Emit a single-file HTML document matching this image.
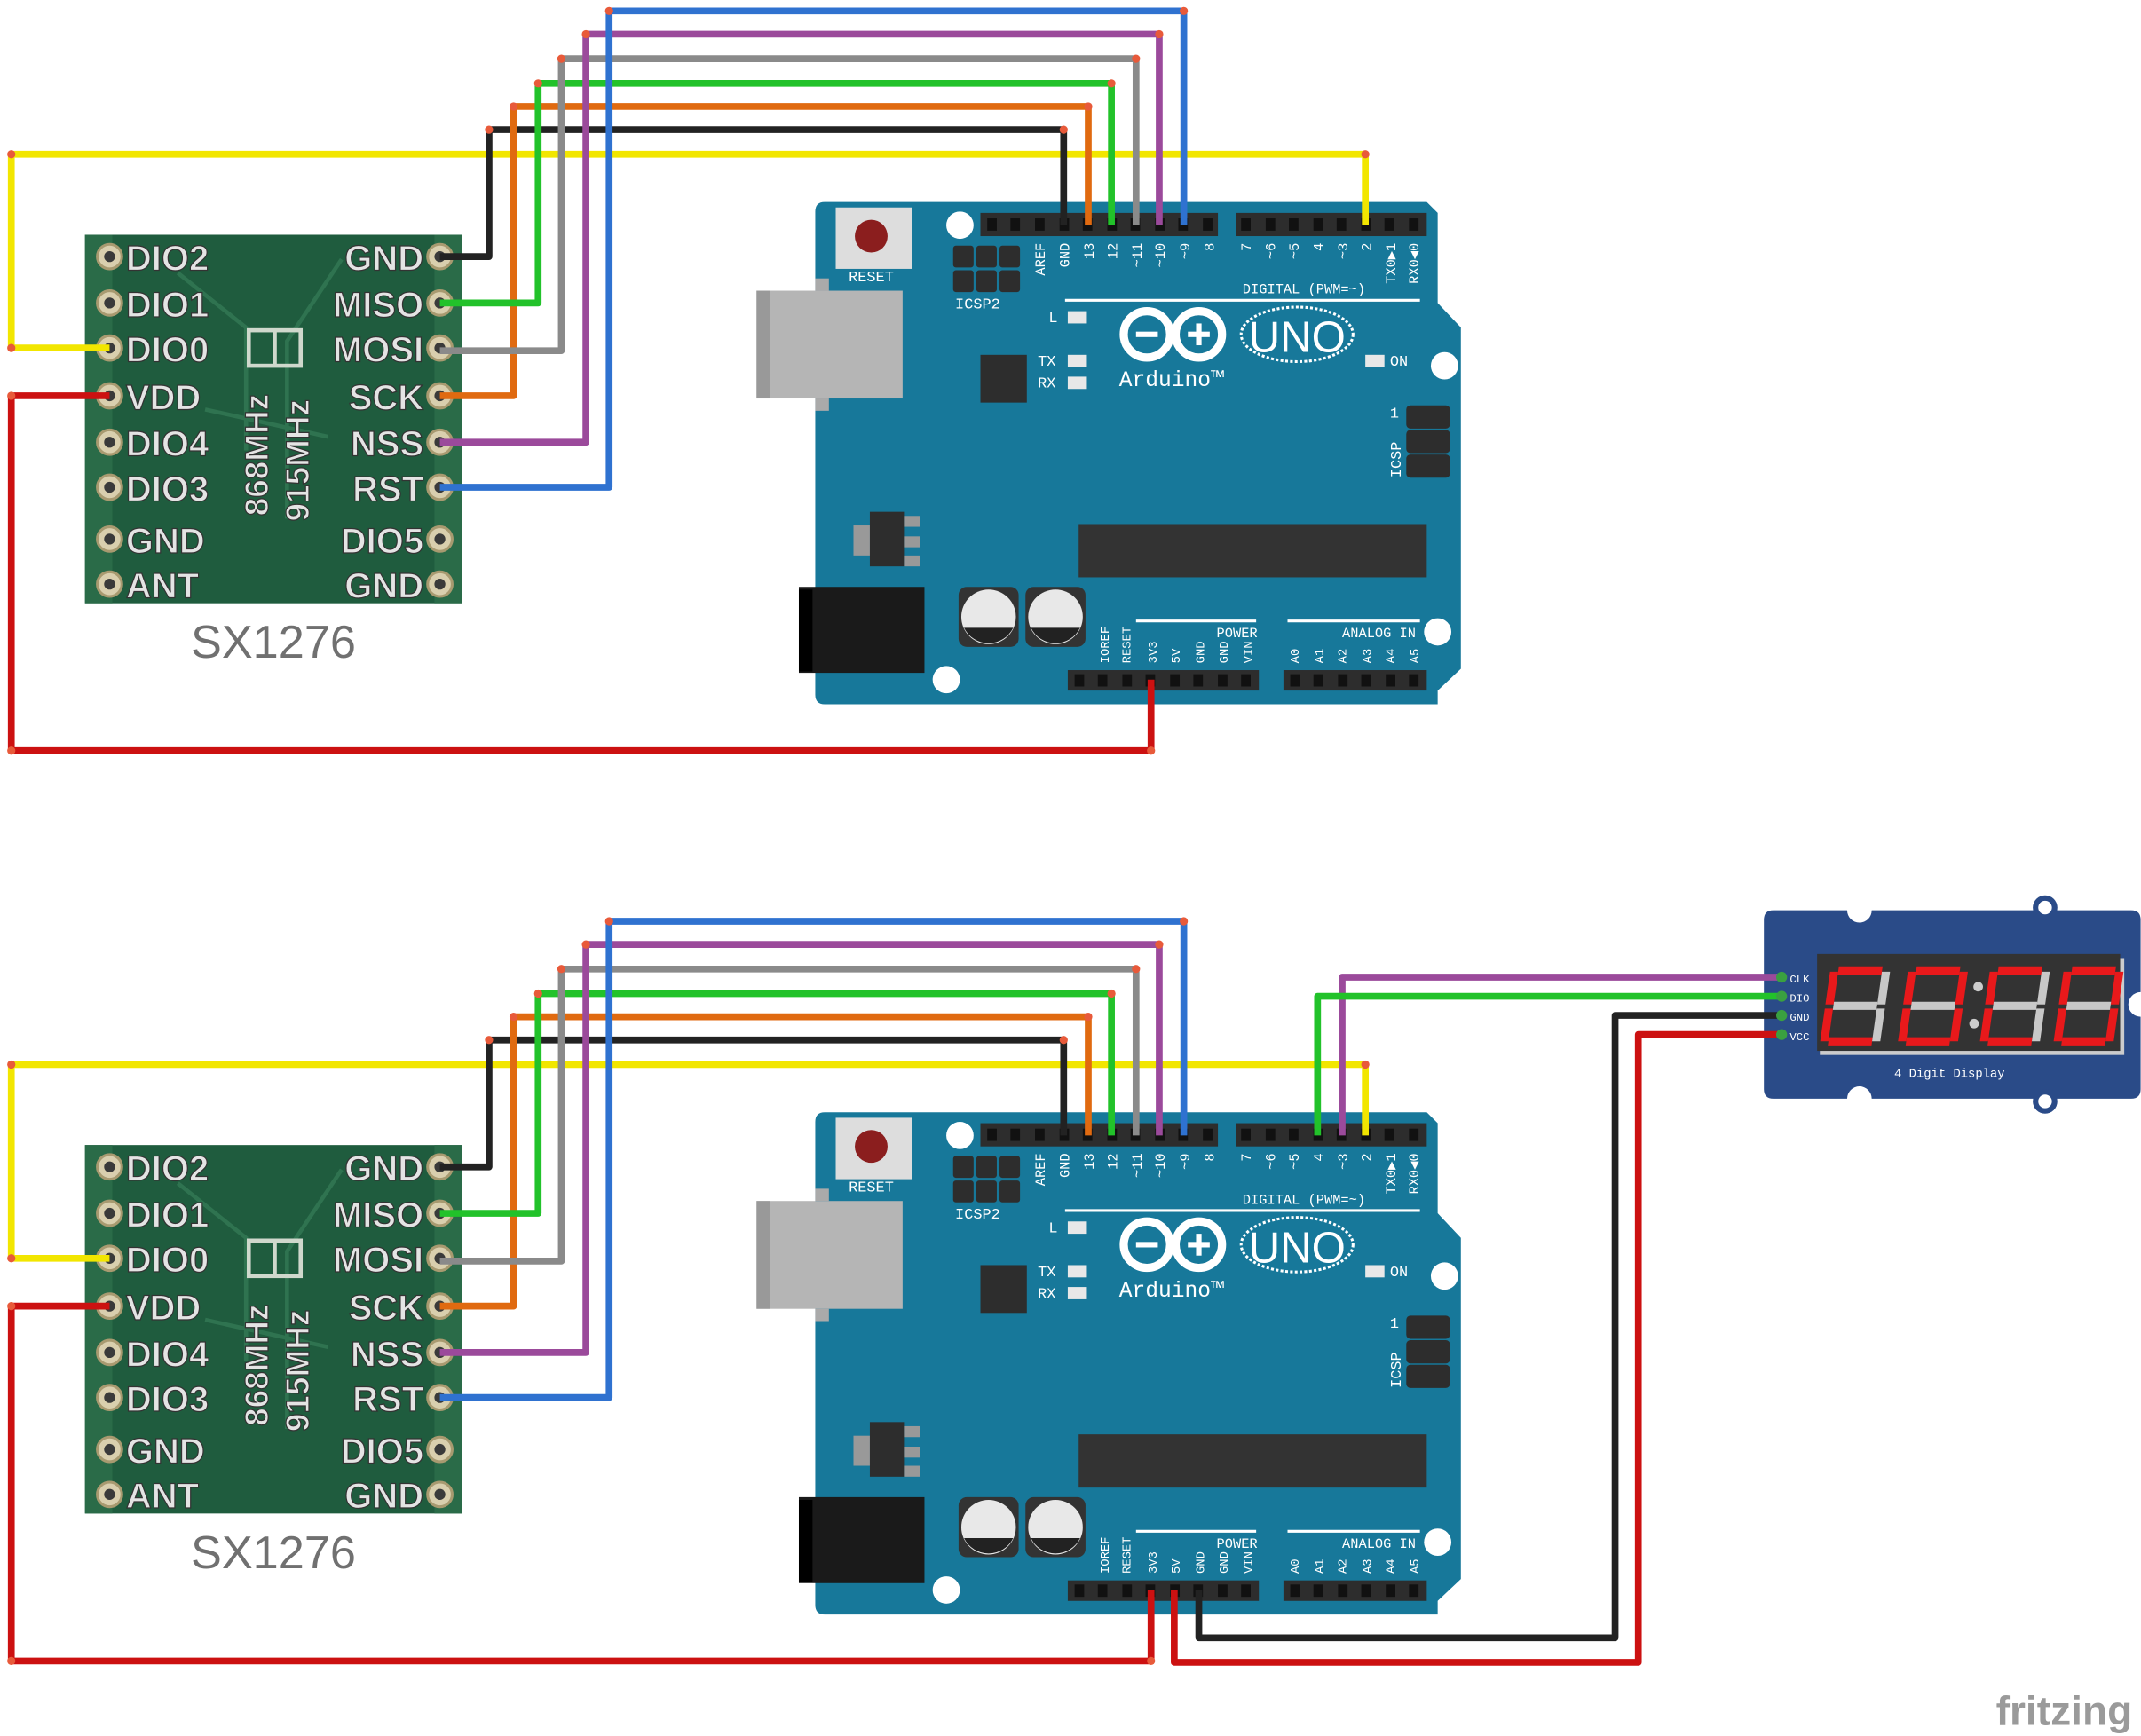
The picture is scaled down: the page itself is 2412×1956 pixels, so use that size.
<!DOCTYPE html>
<html><head><meta charset="utf-8"><style>
html,body{margin:0;padding:0;background:#fff;}
svg{display:block;}
.lt{font-family:"Liberation Sans",sans-serif;}
.mn{font-family:"Liberation Mono","DejaVu Sans Mono",monospace;}
</style></head><body>
<svg width="2412" height="1956" viewBox="0 0 1568 1272" xmlns="http://www.w3.org/2000/svg">
<rect width="1568" height="1272" fill="#fff"/>

<!-- ================= TOP SECTION ================= -->
<g>
<rect x="62" y="172" width="276" height="270" fill="#1f5c3e"/>
<rect x="62" y="172" width="20" height="270" fill="#2a6b48"/>
<rect x="318" y="172" width="20" height="270" fill="#2a6b48"/>
<path d="M130 200 L180 240 L180 330 M250 190 L210 250 L210 380 M150 300 L240 320" stroke="#2f7350" stroke-width="3" fill="none"/>
<rect x="182" y="242" width="38" height="26" fill="none" stroke="#cfd8cc" stroke-width="3"/>
<line x1="201" y1="242" x2="201" y2="268" stroke="#cfd8cc" stroke-width="3"/>
<g fill="#d9cfae" stroke="#a89a70" stroke-width="2">
<circle cx="80" cy="188" r="9"/><circle cx="80" cy="222" r="9"/><circle cx="80" cy="255" r="9"/><circle cx="80" cy="290" r="9"/><circle cx="80" cy="324" r="9"/><circle cx="80" cy="357" r="9"/><circle cx="80" cy="395" r="9"/><circle cx="80" cy="428" r="9"/>
<circle cx="322" cy="188" r="9"/><circle cx="322" cy="222" r="9"/><circle cx="322" cy="255" r="9"/><circle cx="322" cy="290" r="9"/><circle cx="322" cy="324" r="9"/><circle cx="322" cy="357" r="9"/><circle cx="322" cy="395" r="9"/><circle cx="322" cy="428" r="9"/>
</g>
<g fill="#3a3a3a"><circle cx="80" cy="188" r="4"/><circle cx="80" cy="222" r="4"/><circle cx="80" cy="255" r="4"/><circle cx="80" cy="290" r="4"/><circle cx="80" cy="324" r="4"/><circle cx="80" cy="357" r="4"/><circle cx="80" cy="395" r="4"/><circle cx="80" cy="428" r="4"/><circle cx="322" cy="188" r="4"/><circle cx="322" cy="222" r="4"/><circle cx="322" cy="255" r="4"/><circle cx="322" cy="290" r="4"/><circle cx="322" cy="324" r="4"/><circle cx="322" cy="357" r="4"/><circle cx="322" cy="395" r="4"/><circle cx="322" cy="428" r="4"/></g>
<g class="lt" font-size="26" fill="#e4e4e4" stroke="#333" stroke-width="0.8" font-weight="bold">
<text x="92" y="198">DIO2</text><text x="92" y="232">DIO1</text><text x="92" y="265">DIO0</text><text x="92" y="300">VDD</text><text x="92" y="334">DIO4</text><text x="92" y="367">DIO3</text><text x="92" y="405">GND</text><text x="92" y="438">ANT</text>
<g text-anchor="end"><text x="310" y="198">GND</text><text x="310" y="232">MISO</text><text x="310" y="265">MOSI</text><text x="310" y="300">SCK</text><text x="310" y="334">NSS</text><text x="310" y="367">RST</text><text x="310" y="405">DIO5</text><text x="310" y="438">GND</text></g>
<text transform="translate(196,378) rotate(-90)" font-size="24">868MHz</text>
<text transform="translate(226,382) rotate(-90)" font-size="24">915MHz</text>
</g>
<text class="lt" x="200" y="482" font-size="34" fill="#707070" text-anchor="middle">SX1276</text>

<path d="M604 148 H1045 L1053 156 V222 L1070 240 V490 L1053 506 V516 H604 Q597 516 597 509 V155 Q597 148 604 148 Z" fill="#17789a"/>
<rect x="554" y="213" width="107" height="79" fill="#b5b5b5"/><rect x="554" y="213" width="10" height="79" fill="#999"/><rect x="597" y="204" width="10" height="9" fill="#aaa"/><rect x="597" y="292" width="10" height="9" fill="#aaa"/>
<rect x="612" y="152" width="56" height="45" fill="#ddd"/><circle cx="638" cy="173" r="12" fill="#8b1e1e"/>
<text class="mn" x="638" y="206" font-size="11" fill="#fff" text-anchor="middle">RESET</text>
<g fill="#2d2d2d"><rect x="698" y="180" width="15" height="16" rx="2"/><rect x="715" y="180" width="15" height="16" rx="2"/><rect x="732" y="180" width="15" height="16" rx="2"/><rect x="698" y="198" width="15" height="16" rx="2"/><rect x="715" y="198" width="15" height="16" rx="2"/><rect x="732" y="198" width="15" height="16" rx="2"/></g>
<text class="mn" x="716" y="226" font-size="11" fill="#fff" text-anchor="middle">ICSP2</text>
<rect x="718" y="156" width="174" height="17" fill="#2d2d2d"/><rect x="905" y="156" width="140" height="17" fill="#2d2d2d"/>
<g fill="#111"><rect x="723" y="160" width="7" height="9"/><rect x="740" y="160" width="7" height="9"/><rect x="758" y="160" width="7" height="9"/><rect x="776" y="160" width="7" height="9"/><rect x="793" y="160" width="7" height="9"/><rect x="811" y="160" width="7" height="9"/><rect x="828" y="160" width="7" height="9"/><rect x="846" y="160" width="7" height="9"/><rect x="863" y="160" width="7" height="9"/><rect x="881" y="160" width="7" height="9"/><rect x="909" y="160" width="7" height="9"/><rect x="927" y="160" width="7" height="9"/><rect x="944" y="160" width="7" height="9"/><rect x="962" y="160" width="7" height="9"/><rect x="979" y="160" width="7" height="9"/><rect x="997" y="160" width="7" height="9"/><rect x="1014" y="160" width="7" height="9"/><rect x="1032" y="160" width="7" height="9"/></g>
<g class="mn" font-size="10" fill="#fff" text-anchor="end">
<text transform="translate(765,178) rotate(-90)">AREF</text><text transform="translate(783,178) rotate(-90)">GND</text><text transform="translate(801,178) rotate(-90)">13</text><text transform="translate(818,178) rotate(-90)">12</text><text transform="translate(836,178) rotate(-90)">~11</text><text transform="translate(853,178) rotate(-90)">~10</text><text transform="translate(871,178) rotate(-90)">~9</text><text transform="translate(889,178) rotate(-90)">8</text>
<text transform="translate(916,178) rotate(-90)">7</text><text transform="translate(934,178) rotate(-90)">~6</text><text transform="translate(951,178) rotate(-90)">~5</text><text transform="translate(969,178) rotate(-90)">4</text><text transform="translate(987,178) rotate(-90)">~3</text><text transform="translate(1004,178) rotate(-90)">2</text><text transform="translate(1022,178) rotate(-90)">TX0▶1</text><text transform="translate(1039,178) rotate(-90)">RX0◀0</text>
</g>
<text class="mn" x="955" y="215" font-size="10" fill="#fff" text-anchor="middle">DIGITAL (PWM=~)</text>
<line x1="780" y1="220" x2="1040" y2="220" stroke="#fff" stroke-width="2"/>
<g class="mn" font-size="11" fill="#fff"><text x="768" y="236">L</text><text x="760" y="268">TX</text><text x="760" y="284">RX</text><text x="1018" y="268">ON</text></g>
<g fill="#e8e8e8"><rect x="782" y="228" width="14" height="9"/><rect x="782" y="260" width="14" height="9"/><rect x="782" y="276" width="14" height="9"/><rect x="1000" y="260" width="14" height="9"/></g>
<rect x="718" y="260" width="34" height="35" fill="#2d2d2d"/>
<circle cx="840" cy="245" r="17" fill="none" stroke="#fff" stroke-width="6"/><circle cx="878" cy="245" r="17" fill="none" stroke="#fff" stroke-width="6"/>
<rect x="832" y="243" width="16" height="4" fill="#fff"/><rect x="870" y="243" width="16" height="4" fill="#fff"/><rect x="876" y="237" width="4" height="16" fill="#fff"/>
<ellipse cx="950" cy="245" rx="41" ry="20" fill="none" stroke="#fff" stroke-width="2" stroke-dasharray="2 1.5"/>
<text class="lt" x="950" y="258" font-size="32" fill="#fff" text-anchor="middle">UNO</text>
<text class="mn" x="858" y="283" font-size="16" fill="#fff" text-anchor="middle">Arduino™</text>
<g fill="#2d2d2d"><rect x="1030" y="297" width="32" height="17" rx="3"/><rect x="1030" y="315" width="32" height="17" rx="3"/><rect x="1030" y="333" width="32" height="17" rx="3"/></g>
<text class="mn" font-size="11" fill="#fff" x="1018" y="306">1</text>
<text class="mn" font-size="11" fill="#fff" transform="translate(1026,350) rotate(-90)">ICSP</text>
<rect x="625" y="385" width="12" height="22" fill="#999"/><rect x="637" y="375" width="25" height="40" fill="#2d2d2d"/><rect x="662" y="378" width="12" height="8" fill="#999"/><rect x="662" y="393" width="12" height="8" fill="#999"/><rect x="662" y="407" width="12" height="8" fill="#999"/>
<rect x="790" y="384" width="255" height="39" fill="#333"/>
<rect x="585" y="430" width="92" height="63" fill="#1a1a1a"/><rect x="585" y="432" width="10" height="60" fill="#000"/>
<rect x="702" y="430" width="44" height="44" rx="6" fill="#333"/><circle cx="724" cy="452" r="20" fill="#e8e8e8"/><path d="M706 460 A20 20 0 0 0 742 460 Z" fill="#222"/>
<rect x="751" y="430" width="44" height="44" rx="6" fill="#333"/><circle cx="773" cy="452" r="20" fill="#e8e8e8"/><path d="M755 460 A20 20 0 0 0 791 460 Z" fill="#222"/>
<g fill="#fff"><circle cx="703" cy="165" r="10"/><circle cx="693" cy="498" r="10"/><circle cx="1058" cy="268" r="10"/><circle cx="1053" cy="463" r="10"/></g>
<line x1="832" y1="455" x2="920" y2="455" stroke="#fff" stroke-width="2"/><line x1="943" y1="455" x2="1040" y2="455" stroke="#fff" stroke-width="2"/>
<text class="mn" x="906" y="467" font-size="10" fill="#fff" text-anchor="middle">POWER</text><text class="mn" x="1010" y="467" font-size="10" fill="#fff" text-anchor="middle">ANALOG IN</text>
<g class="mn" font-size="9" fill="#fff" text-anchor="start">
<text transform="translate(812,486) rotate(-90)">IOREF</text><text transform="translate(828,486) rotate(-90)">RESET</text><text transform="translate(847,486) rotate(-90)">3V3</text><text transform="translate(864,486) rotate(-90)">5V</text><text transform="translate(882,486) rotate(-90)">GND</text><text transform="translate(899,486) rotate(-90)">GND</text><text transform="translate(917,486) rotate(-90)">VIN</text>
<text transform="translate(951,486) rotate(-90)">A0</text><text transform="translate(969,486) rotate(-90)">A1</text><text transform="translate(986,486) rotate(-90)">A2</text><text transform="translate(1004,486) rotate(-90)">A3</text><text transform="translate(1021,486) rotate(-90)">A4</text><text transform="translate(1039,486) rotate(-90)">A5</text>
</g>
<rect x="782" y="491" width="140" height="15" fill="#2d2d2d"/><rect x="940" y="491" width="105" height="15" fill="#2d2d2d"/>
<g fill="#111"><rect x="787" y="494" width="7" height="9"/><rect x="804" y="494" width="7" height="9"/><rect x="822" y="494" width="7" height="9"/><rect x="839" y="494" width="7" height="9"/><rect x="857" y="494" width="7" height="9"/><rect x="874" y="494" width="7" height="9"/><rect x="892" y="494" width="7" height="9"/><rect x="909" y="494" width="7" height="9"/><rect x="945" y="494" width="7" height="9"/><rect x="962" y="494" width="7" height="9"/><rect x="980" y="494" width="7" height="9"/><rect x="997" y="494" width="7" height="9"/><rect x="1015" y="494" width="7" height="9"/><rect x="1032" y="494" width="7" height="9"/></g>

<g fill="none" stroke-width="5" stroke-linejoin="round">
<path d="M80 255 H8 V113 H1000 V165" stroke="#f2e600"/>
<path d="M322 188 H358 V95 H779 V165" stroke="#222"/>
<path d="M322 290 H376 V78 H797 V165" stroke="#e06a10"/>
<path d="M322 222 H394 V61 H814 V165" stroke="#22c22a"/>
<path d="M322 257 H411 V43 H832 V165" stroke="#8a8a8a"/>
<path d="M322 324 H429 V25 H849 V165" stroke="#9b4a9b"/>
<path d="M322 357 H446 V8 H867 V165" stroke="#2f72d0"/>
<path d="M80 290 H8 V550 H843 V498" stroke="#cc1111"/>
</g>
<g fill="#e85a3a"><circle cx="8" cy="113" r="3"/><circle cx="8" cy="255" r="3"/><circle cx="1000" cy="113" r="3"/><circle cx="358" cy="95" r="3"/><circle cx="779" cy="95" r="3"/><circle cx="376" cy="78" r="3"/><circle cx="797" cy="78" r="3"/><circle cx="394" cy="61" r="3"/><circle cx="814" cy="61" r="3"/><circle cx="411" cy="43" r="3"/><circle cx="832" cy="43" r="3"/><circle cx="429" cy="25" r="3"/><circle cx="849" cy="25" r="3"/><circle cx="446" cy="8" r="3"/><circle cx="867" cy="8" r="3"/><circle cx="8" cy="290" r="3"/><circle cx="8" cy="550" r="3"/><circle cx="843" cy="550" r="3"/></g>
</g>

<!-- ================= BOTTOM SECTION ================= -->
<g transform="translate(0,667)">
<rect x="62" y="172" width="276" height="270" fill="#1f5c3e"/>
<rect x="62" y="172" width="20" height="270" fill="#2a6b48"/>
<rect x="318" y="172" width="20" height="270" fill="#2a6b48"/>
<path d="M130 200 L180 240 L180 330 M250 190 L210 250 L210 380 M150 300 L240 320" stroke="#2f7350" stroke-width="3" fill="none"/>
<rect x="182" y="242" width="38" height="26" fill="none" stroke="#cfd8cc" stroke-width="3"/>
<line x1="201" y1="242" x2="201" y2="268" stroke="#cfd8cc" stroke-width="3"/>
<g fill="#d9cfae" stroke="#a89a70" stroke-width="2">
<circle cx="80" cy="188" r="9"/><circle cx="80" cy="222" r="9"/><circle cx="80" cy="255" r="9"/><circle cx="80" cy="290" r="9"/><circle cx="80" cy="324" r="9"/><circle cx="80" cy="357" r="9"/><circle cx="80" cy="395" r="9"/><circle cx="80" cy="428" r="9"/>
<circle cx="322" cy="188" r="9"/><circle cx="322" cy="222" r="9"/><circle cx="322" cy="255" r="9"/><circle cx="322" cy="290" r="9"/><circle cx="322" cy="324" r="9"/><circle cx="322" cy="357" r="9"/><circle cx="322" cy="395" r="9"/><circle cx="322" cy="428" r="9"/>
</g>
<g fill="#3a3a3a"><circle cx="80" cy="188" r="4"/><circle cx="80" cy="222" r="4"/><circle cx="80" cy="255" r="4"/><circle cx="80" cy="290" r="4"/><circle cx="80" cy="324" r="4"/><circle cx="80" cy="357" r="4"/><circle cx="80" cy="395" r="4"/><circle cx="80" cy="428" r="4"/><circle cx="322" cy="188" r="4"/><circle cx="322" cy="222" r="4"/><circle cx="322" cy="255" r="4"/><circle cx="322" cy="290" r="4"/><circle cx="322" cy="324" r="4"/><circle cx="322" cy="357" r="4"/><circle cx="322" cy="395" r="4"/><circle cx="322" cy="428" r="4"/></g>
<g class="lt" font-size="26" fill="#e4e4e4" stroke="#333" stroke-width="0.8" font-weight="bold">
<text x="92" y="198">DIO2</text><text x="92" y="232">DIO1</text><text x="92" y="265">DIO0</text><text x="92" y="300">VDD</text><text x="92" y="334">DIO4</text><text x="92" y="367">DIO3</text><text x="92" y="405">GND</text><text x="92" y="438">ANT</text>
<g text-anchor="end"><text x="310" y="198">GND</text><text x="310" y="232">MISO</text><text x="310" y="265">MOSI</text><text x="310" y="300">SCK</text><text x="310" y="334">NSS</text><text x="310" y="367">RST</text><text x="310" y="405">DIO5</text><text x="310" y="438">GND</text></g>
<text transform="translate(196,378) rotate(-90)" font-size="24">868MHz</text>
<text transform="translate(226,382) rotate(-90)" font-size="24">915MHz</text>
</g>
<text class="lt" x="200" y="482" font-size="34" fill="#707070" text-anchor="middle">SX1276</text>

<path d="M604 148 H1045 L1053 156 V222 L1070 240 V490 L1053 506 V516 H604 Q597 516 597 509 V155 Q597 148 604 148 Z" fill="#17789a"/>
<rect x="554" y="213" width="107" height="79" fill="#b5b5b5"/><rect x="554" y="213" width="10" height="79" fill="#999"/><rect x="597" y="204" width="10" height="9" fill="#aaa"/><rect x="597" y="292" width="10" height="9" fill="#aaa"/>
<rect x="612" y="152" width="56" height="45" fill="#ddd"/><circle cx="638" cy="173" r="12" fill="#8b1e1e"/>
<text class="mn" x="638" y="206" font-size="11" fill="#fff" text-anchor="middle">RESET</text>
<g fill="#2d2d2d"><rect x="698" y="180" width="15" height="16" rx="2"/><rect x="715" y="180" width="15" height="16" rx="2"/><rect x="732" y="180" width="15" height="16" rx="2"/><rect x="698" y="198" width="15" height="16" rx="2"/><rect x="715" y="198" width="15" height="16" rx="2"/><rect x="732" y="198" width="15" height="16" rx="2"/></g>
<text class="mn" x="716" y="226" font-size="11" fill="#fff" text-anchor="middle">ICSP2</text>
<rect x="718" y="156" width="174" height="17" fill="#2d2d2d"/><rect x="905" y="156" width="140" height="17" fill="#2d2d2d"/>
<g fill="#111"><rect x="723" y="160" width="7" height="9"/><rect x="740" y="160" width="7" height="9"/><rect x="758" y="160" width="7" height="9"/><rect x="776" y="160" width="7" height="9"/><rect x="793" y="160" width="7" height="9"/><rect x="811" y="160" width="7" height="9"/><rect x="828" y="160" width="7" height="9"/><rect x="846" y="160" width="7" height="9"/><rect x="863" y="160" width="7" height="9"/><rect x="881" y="160" width="7" height="9"/><rect x="909" y="160" width="7" height="9"/><rect x="927" y="160" width="7" height="9"/><rect x="944" y="160" width="7" height="9"/><rect x="962" y="160" width="7" height="9"/><rect x="979" y="160" width="7" height="9"/><rect x="997" y="160" width="7" height="9"/><rect x="1014" y="160" width="7" height="9"/><rect x="1032" y="160" width="7" height="9"/></g>
<g class="mn" font-size="10" fill="#fff" text-anchor="end">
<text transform="translate(765,178) rotate(-90)">AREF</text><text transform="translate(783,178) rotate(-90)">GND</text><text transform="translate(801,178) rotate(-90)">13</text><text transform="translate(818,178) rotate(-90)">12</text><text transform="translate(836,178) rotate(-90)">~11</text><text transform="translate(853,178) rotate(-90)">~10</text><text transform="translate(871,178) rotate(-90)">~9</text><text transform="translate(889,178) rotate(-90)">8</text>
<text transform="translate(916,178) rotate(-90)">7</text><text transform="translate(934,178) rotate(-90)">~6</text><text transform="translate(951,178) rotate(-90)">~5</text><text transform="translate(969,178) rotate(-90)">4</text><text transform="translate(987,178) rotate(-90)">~3</text><text transform="translate(1004,178) rotate(-90)">2</text><text transform="translate(1022,178) rotate(-90)">TX0▶1</text><text transform="translate(1039,178) rotate(-90)">RX0◀0</text>
</g>
<text class="mn" x="955" y="215" font-size="10" fill="#fff" text-anchor="middle">DIGITAL (PWM=~)</text>
<line x1="780" y1="220" x2="1040" y2="220" stroke="#fff" stroke-width="2"/>
<g class="mn" font-size="11" fill="#fff"><text x="768" y="236">L</text><text x="760" y="268">TX</text><text x="760" y="284">RX</text><text x="1018" y="268">ON</text></g>
<g fill="#e8e8e8"><rect x="782" y="228" width="14" height="9"/><rect x="782" y="260" width="14" height="9"/><rect x="782" y="276" width="14" height="9"/><rect x="1000" y="260" width="14" height="9"/></g>
<rect x="718" y="260" width="34" height="35" fill="#2d2d2d"/>
<circle cx="840" cy="245" r="17" fill="none" stroke="#fff" stroke-width="6"/><circle cx="878" cy="245" r="17" fill="none" stroke="#fff" stroke-width="6"/>
<rect x="832" y="243" width="16" height="4" fill="#fff"/><rect x="870" y="243" width="16" height="4" fill="#fff"/><rect x="876" y="237" width="4" height="16" fill="#fff"/>
<ellipse cx="950" cy="245" rx="41" ry="20" fill="none" stroke="#fff" stroke-width="2" stroke-dasharray="2 1.5"/>
<text class="lt" x="950" y="258" font-size="32" fill="#fff" text-anchor="middle">UNO</text>
<text class="mn" x="858" y="283" font-size="16" fill="#fff" text-anchor="middle">Arduino™</text>
<g fill="#2d2d2d"><rect x="1030" y="297" width="32" height="17" rx="3"/><rect x="1030" y="315" width="32" height="17" rx="3"/><rect x="1030" y="333" width="32" height="17" rx="3"/></g>
<text class="mn" font-size="11" fill="#fff" x="1018" y="306">1</text>
<text class="mn" font-size="11" fill="#fff" transform="translate(1026,350) rotate(-90)">ICSP</text>
<rect x="625" y="385" width="12" height="22" fill="#999"/><rect x="637" y="375" width="25" height="40" fill="#2d2d2d"/><rect x="662" y="378" width="12" height="8" fill="#999"/><rect x="662" y="393" width="12" height="8" fill="#999"/><rect x="662" y="407" width="12" height="8" fill="#999"/>
<rect x="790" y="384" width="255" height="39" fill="#333"/>
<rect x="585" y="430" width="92" height="63" fill="#1a1a1a"/><rect x="585" y="432" width="10" height="60" fill="#000"/>
<rect x="702" y="430" width="44" height="44" rx="6" fill="#333"/><circle cx="724" cy="452" r="20" fill="#e8e8e8"/><path d="M706 460 A20 20 0 0 0 742 460 Z" fill="#222"/>
<rect x="751" y="430" width="44" height="44" rx="6" fill="#333"/><circle cx="773" cy="452" r="20" fill="#e8e8e8"/><path d="M755 460 A20 20 0 0 0 791 460 Z" fill="#222"/>
<g fill="#fff"><circle cx="703" cy="165" r="10"/><circle cx="693" cy="498" r="10"/><circle cx="1058" cy="268" r="10"/><circle cx="1053" cy="463" r="10"/></g>
<line x1="832" y1="455" x2="920" y2="455" stroke="#fff" stroke-width="2"/><line x1="943" y1="455" x2="1040" y2="455" stroke="#fff" stroke-width="2"/>
<text class="mn" x="906" y="467" font-size="10" fill="#fff" text-anchor="middle">POWER</text><text class="mn" x="1010" y="467" font-size="10" fill="#fff" text-anchor="middle">ANALOG IN</text>
<g class="mn" font-size="9" fill="#fff" text-anchor="start">
<text transform="translate(812,486) rotate(-90)">IOREF</text><text transform="translate(828,486) rotate(-90)">RESET</text><text transform="translate(847,486) rotate(-90)">3V3</text><text transform="translate(864,486) rotate(-90)">5V</text><text transform="translate(882,486) rotate(-90)">GND</text><text transform="translate(899,486) rotate(-90)">GND</text><text transform="translate(917,486) rotate(-90)">VIN</text>
<text transform="translate(951,486) rotate(-90)">A0</text><text transform="translate(969,486) rotate(-90)">A1</text><text transform="translate(986,486) rotate(-90)">A2</text><text transform="translate(1004,486) rotate(-90)">A3</text><text transform="translate(1021,486) rotate(-90)">A4</text><text transform="translate(1039,486) rotate(-90)">A5</text>
</g>
<rect x="782" y="491" width="140" height="15" fill="#2d2d2d"/><rect x="940" y="491" width="105" height="15" fill="#2d2d2d"/>
<g fill="#111"><rect x="787" y="494" width="7" height="9"/><rect x="804" y="494" width="7" height="9"/><rect x="822" y="494" width="7" height="9"/><rect x="839" y="494" width="7" height="9"/><rect x="857" y="494" width="7" height="9"/><rect x="874" y="494" width="7" height="9"/><rect x="892" y="494" width="7" height="9"/><rect x="909" y="494" width="7" height="9"/><rect x="945" y="494" width="7" height="9"/><rect x="962" y="494" width="7" height="9"/><rect x="980" y="494" width="7" height="9"/><rect x="997" y="494" width="7" height="9"/><rect x="1015" y="494" width="7" height="9"/><rect x="1032" y="494" width="7" height="9"/></g>

<g fill="none" stroke-width="5" stroke-linejoin="round">
<path d="M80 255 H8 V113 H1000 V165" stroke="#f2e600"/>
<path d="M322 188 H358 V95 H779 V165" stroke="#222"/>
<path d="M322 290 H376 V78 H797 V165" stroke="#e06a10"/>
<path d="M322 222 H394 V61 H814 V165" stroke="#22c22a"/>
<path d="M322 257 H411 V43 H832 V165" stroke="#8a8a8a"/>
<path d="M322 324 H429 V25 H849 V165" stroke="#9b4a9b"/>
<path d="M322 357 H446 V8 H867 V165" stroke="#2f72d0"/>
<path d="M80 290 H8 V550 H843 V498" stroke="#cc1111"/>
</g>
<g fill="#e85a3a"><circle cx="8" cy="113" r="3"/><circle cx="8" cy="255" r="3"/><circle cx="1000" cy="113" r="3"/><circle cx="358" cy="95" r="3"/><circle cx="779" cy="95" r="3"/><circle cx="376" cy="78" r="3"/><circle cx="797" cy="78" r="3"/><circle cx="394" cy="61" r="3"/><circle cx="814" cy="61" r="3"/><circle cx="411" cy="43" r="3"/><circle cx="832" cy="43" r="3"/><circle cx="429" cy="25" r="3"/><circle cx="849" cy="25" r="3"/><circle cx="446" cy="8" r="3"/><circle cx="867" cy="8" r="3"/><circle cx="8" cy="290" r="3"/><circle cx="8" cy="550" r="3"/><circle cx="843" cy="550" r="3"/></g>
</g>

<!-- 4 digit display -->
<path d="M1299 667 H1561 Q1568 667 1568 674 V798 Q1568 805 1561 805 H1299 Q1292 805 1292 798 V674 Q1292 667 1299 667 Z" fill="#2a4b88"/>
<circle cx="1498" cy="665" r="9" fill="#2a4b88"/><circle cx="1498" cy="665" r="5" fill="#fff"/>
<circle cx="1498" cy="807" r="9" fill="#2a4b88"/><circle cx="1498" cy="807" r="5" fill="#fff"/>
<circle cx="1362" cy="667" r="9" fill="#fff"/><circle cx="1362" cy="805" r="9" fill="#fff"/>
<circle cx="1568" cy="736" r="9" fill="#fff"/>
<rect x="1333" y="702" width="223" height="71" fill="#ccc"/>
<rect x="1331" y="699" width="222" height="71" fill="#333"/>
<!-- digits: local 44x58, skewed -->
<g transform="translate(1341,708) skewX(-8)">
<g fill="#e8191b"><rect x="6" y="0" width="32" height="6"/><rect x="0" y="4" width="6" height="24"/><rect x="0" y="31" width="6" height="24"/><rect x="6" y="52" width="32" height="6"/></g>
<g fill="#c8c8c8"><rect x="38" y="4" width="6" height="24"/><rect x="38" y="31" width="6" height="24"/><rect x="6" y="26" width="32" height="6"/></g>
</g>
<g transform="translate(1398,708) skewX(-8)">
<g fill="#e8191b"><rect x="6" y="0" width="32" height="6"/><rect x="0" y="4" width="6" height="24"/><rect x="0" y="31" width="6" height="24"/><rect x="6" y="52" width="32" height="6"/><rect x="38" y="4" width="6" height="24"/><rect x="38" y="31" width="6" height="24"/></g>
<g fill="#c8c8c8"><rect x="6" y="26" width="32" height="6"/></g>
</g>
<g transform="translate(1458,708) skewX(-8)">
<g fill="#e8191b"><rect x="6" y="0" width="32" height="6"/><rect x="0" y="4" width="6" height="24"/><rect x="0" y="31" width="6" height="24"/><rect x="6" y="52" width="32" height="6"/></g>
<g fill="#c8c8c8"><rect x="38" y="4" width="6" height="24"/><rect x="38" y="31" width="6" height="24"/><rect x="6" y="26" width="32" height="6"/></g>
</g>
<g transform="translate(1512,708) skewX(-8)">
<g fill="#e8191b"><rect x="6" y="0" width="32" height="6"/><rect x="0" y="4" width="6" height="24"/><rect x="0" y="31" width="6" height="24"/><rect x="6" y="52" width="32" height="6"/><rect x="38" y="4" width="6" height="24"/><rect x="38" y="31" width="6" height="24"/></g>
<g fill="#c8c8c8"><rect x="6" y="26" width="32" height="6"/></g>
</g>
<circle cx="1449" cy="723" r="3.5" fill="#ccc"/><circle cx="1446" cy="750" r="3.5" fill="#ccc"/>
<g class="mn" font-size="8" fill="#fff"><text x="1311" y="720">CLK</text><text x="1311" y="734">DIO</text><text x="1311" y="748">GND</text><text x="1311" y="762">VCC</text></g>
<text class="mn" x="1428" y="789" font-size="9" fill="#fff" text-anchor="middle">4 Digit Display</text>

<g fill="none" stroke-width="5" stroke-linejoin="round">
<path d="M983 832 V716 H1305" stroke="#9b4a9b"/>
<path d="M965 832 V730 H1305" stroke="#22c22a"/>
<path d="M878 1165 V1200 H1183 V744 H1305" stroke="#222"/>
<path d="M860 1165 V1218 H1200 V758 H1305" stroke="#cc1111"/>
</g>
<g fill="#3aa040"><circle cx="1305" cy="716" r="4"/><circle cx="1305" cy="730" r="4"/><circle cx="1305" cy="744" r="4"/><circle cx="1305" cy="758" r="4"/></g>

<text class="lt" x="1512" y="1264" font-size="30" fill="#9a9a9a" text-anchor="middle" font-weight="bold">fritzing</text>
</svg>
</body></html>
